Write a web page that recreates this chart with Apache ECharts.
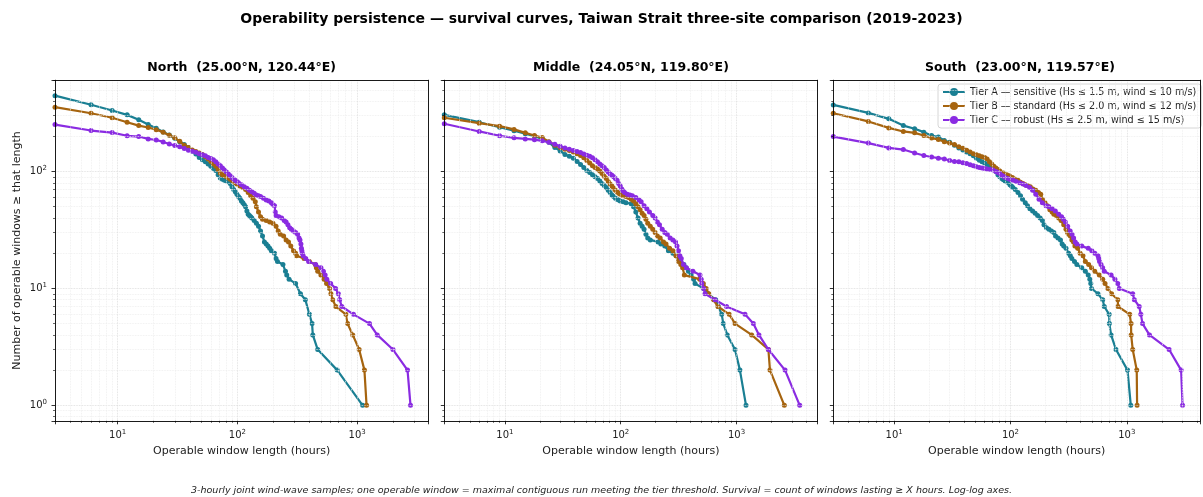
<!DOCTYPE html>
<html>
<head>
<meta charset="utf-8">
<script src="https://cdn.jsdelivr.net/npm/echarts@6/dist/echarts.min.js"></script>
<style>html,body{margin:0;padding:0;background:#fff;}#chart{width:1203px;height:497px;}</style>
</head>
<body>
<div id="chart"></div>
<script>
// ---------------- data ----------------
const suptitle = 'Operability persistence \u2014 survival curves, Taiwan Strait three-site comparison (2019-2023)';
const panelTitles = ['North  (25.00\u00b0N, 120.44\u00b0E)', 'Middle  (24.05\u00b0N, 119.80\u00b0E)', 'South  (23.00\u00b0N, 119.57\u00b0E)'];
const tierNames = [
  'Tier A \u2014 sensitive (Hs \u2264 1.5 m, wind \u2264 10 m/s)',
  'Tier B \u2014 standard (Hs \u2264 2.0 m, wind \u2264 12 m/s)',
  'Tier C \u2014 robust (Hs \u2264 2.5 m, wind \u2264 15 m/s)'
];
const xLabel = 'Operable window length (hours)';
const yLabel = 'Number of operable windows \u2265 that length';
const footnote = '3-hourly joint wind-wave samples; one operable window = maximal contiguous run meeting the tier threshold. Survival = count of windows lasting \u2265 X hours. Log-log axes.';
const xTicks = [10, 100, 1000];
const yTicks = [1, 10, 100];

// [window length (h), windows >= length]
const northA = [[3,445],[6,372],[9,332],[12,305],[15,277],[18,252],[21,234],[24,218],[27,205],[30,192],[33,180],[36,170],[39,160],[42,150],[45,141],[48,132],[51,126],[54,121],[57,116],[60,111],[63,106],[66,102],[69,94],[72,88],[75,86],[78,84],[81,83],[84,82],[87,79],[90,74],[93,70],[96,67],[99,64],[102,61],[105,59],[108,56],[111,54],[114,52],[117,50],[120,46],[123,43],[126,42],[129,41],[132,40],[138,38],[144,36],[150,34],[156,31],[162,28],[168,25],[174,24],[180,23],[186,22],[192,21],[204,20],[210,18],[216,17],[240,16],[252,14],[258,13],[270,12],[306,11],[336,9],[369,8],[399,6],[420,5],[426,4],[468,3],[681,2],[1110,1]];
const northB = [[3,355],[6,315],[9,288],[12,264],[15,247],[18,238],[21,228],[24,217],[27,204],[30,194],[33,181],[36,168],[39,160],[42,153],[45,148],[48,144],[51,140],[54,134],[57,128],[60,122],[63,116],[66,111],[69,104],[72,97],[75,94],[78,92],[81,90],[84,88],[87,86],[90,84],[93,82],[96,80],[99,78],[105,75],[111,73],[117,70],[123,66],[129,62],[135,59],[141,55],[144,50],[150,45],[156,41],[162,39],[174,38],[186,37],[198,36],[210,34],[219,31],[228,29],[243,28],[255,26],[267,25],[279,23],[294,21],[306,20],[312,19],[360,18],[399,17],[447,16],[456,15],[468,14],[498,13],[528,12],[555,11],[588,10],[603,9],[624,8],[663,7],[804,6],[831,5],[918,4],[1038,3],[1149,2],[1197,1]];
const northC = [[3,252],[6,224],[9,215],[12,202],[15,199],[18,190],[21,186],[24,179],[27,172],[30,167],[33,163],[36,157],[39,152],[42,149],[45,146],[48,142],[51,139],[54,136],[57,132],[60,129],[63,126],[66,121],[69,116],[72,112],[75,107],[78,103],[81,99],[84,95],[87,92],[90,89],[93,86],[96,84],[99,82],[102,80],[108,77],[114,74],[120,72],[126,69],[132,67],[138,65],[144,63],[150,62],[156,61],[165,59],[174,57],[183,56],[192,54],[198,52],[204,51],[207,45],[210,42],[222,41],[234,40],[246,38],[255,37],[264,35],[273,33],[282,32],[294,31],[306,30],[318,29],[327,27],[333,26],[339,24],[342,22],[345,21],[348,20],[354,19],[372,18],[393,17],[450,16],[498,15],[522,14],[540,13],[558,12],[600,11],[660,10],[696,9],[714,8],[744,7],[930,6],[1266,5],[1470,4],[1989,3],[2631,2],[2787,1]];

const middleA = [[3,305],[6,264],[9,239],[12,223],[15,210],[18,200],[21,190],[24,178],[27,160],[30,150],[33,140],[36,135],[39,130],[42,122],[45,115],[48,108],[51,102],[54,98],[57,94],[60,90],[63,87],[66,83],[69,79],[72,76],[75,73],[78,69],[81,66],[84,63],[87,61],[90,59],[93,58],[96,57],[99,56],[105,55],[111,54],[123,53],[129,50],[135,45],[141,40],[147,36],[153,34],[159,32],[165,29],[171,27],[180,26],[210,25],[222,24],[240,23],[258,21],[282,20],[300,19],[315,18],[330,17],[351,16],[366,15],[384,14],[405,13],[426,12],[438,11],[516,10],[570,9],[660,8],[696,7],[744,6],[768,5],[831,4],[969,3],[1068,2],[1206,1]];
const middleB = [[3,288],[6,259],[9,244],[12,229],[15,214],[18,203],[21,195],[24,180],[27,168],[30,160],[33,155],[36,151],[39,147],[42,142],[45,137],[48,131],[51,124],[54,118],[57,112],[60,108],[63,105],[66,101],[69,96],[72,91],[75,87],[78,82],[81,78],[84,75],[87,72],[90,69],[93,67],[96,65],[99,64],[105,62],[111,61],[117,60],[123,58],[129,56],[135,53],[141,50],[147,47],[153,44],[159,42],[165,39],[171,36],[180,34],[189,32],[198,30],[207,28],[219,27],[234,25],[246,24],[264,22],[282,21],[300,19],[315,17],[330,16],[342,15],[354,13],[480,12],[516,11],[546,10],[576,9],[630,8],[690,7],[864,6],[969,5],[1350,4],[1881,3],[1941,2],[2583,1]];
const middleC = [[3,256],[6,220],[9,202],[12,194],[15,190],[18,187],[21,183],[24,178],[27,171],[30,164],[33,159],[36,155],[39,151],[42,148],[45,145],[48,141],[51,138],[54,135],[57,131],[60,126],[63,121],[66,116],[69,112],[72,108],[75,103],[78,99],[81,95],[84,93],[87,90],[90,87],[93,84],[96,79],[99,75],[102,71],[105,68],[108,66],[114,64],[120,63],[126,62],[135,60],[144,57],[150,55],[159,51],[168,48],[177,45],[189,42],[198,40],[207,37],[216,35],[228,32],[240,30],[252,29],[267,27],[282,26],[297,25],[306,23],[315,21],[324,19],[333,18],[348,16],[369,15],[420,14],[483,13],[495,12],[501,11],[519,10],[534,9],[651,8],[819,7],[1182,6],[1395,5],[1560,4],[1881,3],[2619,2],[3507,1]];

const southA = [[3,371],[6,317],[9,282],[12,247],[15,232],[18,217],[21,203],[24,197],[27,184],[30,178],[33,168],[36,159],[39,153],[42,147],[45,142],[48,136],[51,130],[54,125],[57,121],[60,118],[63,115],[66,112],[69,108],[72,104],[75,100],[78,94],[81,90],[84,87],[87,85],[90,83],[93,82],[96,80],[99,77],[102,75],[105,73],[110,70],[116,66],[122,62],[127,58],[134,54],[140,51],[147,48],[155,46],[163,44],[171,42],[180,40],[188,38],[194,35],[204,33],[214,32],[225,31],[236,30],[244,28],[256,27],[269,26],[278,24],[287,23],[300,22],[316,20],[327,19],[337,18],[355,17],[372,16],[410,15],[440,14],[466,13],[481,12],[490,11],[497,10],[565,9],[621,8],[640,7],[705,6],[708,5],[733,4],[807,3],[1014,2],[1082,1]];
const southB = [[3,315],[6,268],[9,236],[12,220],[15,214],[18,203],[21,193],[24,188],[27,180],[30,175],[33,170],[36,163],[39,158],[42,152],[45,147],[48,142],[51,139],[54,136],[57,134],[60,132],[63,128],[66,121],[69,116],[72,111],[75,107],[78,104],[81,101],[87,97],[93,94],[98,92],[104,89],[110,86],[116,84],[122,81],[128,79],[134,77],[140,76],[148,74],[156,71],[165,69],[174,66],[182,64],[188,58],[198,54],[207,51],[218,47],[228,45],[236,43],[248,42],[260,40],[272,38],[287,35],[300,32],[309,30],[316,29],[327,28],[337,26],[348,25],[358,23],[378,22],[397,20],[420,19],[440,17],[470,16],[497,15],[530,14],[580,13],[621,12],[650,11],[688,10],[740,9],[836,8],[840,7],[1059,6],[1088,5],[1090,4],[1124,3],[1217,2],[1226,1]];
const southC = [[3,199],[6,175],[9,159],[12,154],[15,144],[18,137],[21,133],[24,130],[27,128],[30,124],[33,122],[36,121],[39,119],[42,117],[45,114],[48,112],[51,110],[54,108],[57,107],[60,106],[63,105],[67,104],[71,103],[75,100],[78,98],[81,96],[84,93],[87,91],[90,89],[95,87],[100,85],[106,84],[112,82],[120,80],[128,78],[136,76],[146,73],[155,69],[165,64],[176,58],[188,54],[202,51],[214,50],[228,48],[243,46],[260,43],[275,41],[285,39],[296,37],[310,34],[326,31],[338,29],[349,27],[360,25],[372,24],[410,23],[466,22],[500,21],[531,20],[565,19],[574,18],[583,17],[600,16],[620,15],[640,14],[733,13],[790,12],[836,11],[863,10],[1124,9],[1161,8],[1278,7],[1320,6],[1365,5],[1566,4],[2310,3],[2930,2],[3013,1]];

const panels = [[northA, northB, northC], [middleA, middleB, middleC], [southA, southB, southC]];
const tierColors = ['#1a7f93', '#a6640f', '#8a2be2'];

// ---------------- layout ----------------
const FONT = 'DejaVu Sans';
const gridBoxes = [
  {left: 55, width: 373.3},
  {left: 444.3, width: 373.2},
  {left: 833.3, width: 373.5}
];
const gridTop = 80.2, gridHeight = 340.6;
const xMin = 3;

function lg(v) { return Math.log10(v); }
// matplotlib-like 5% margins in log space
let globalMax = 0;
panels.forEach(p => p.forEach(s => s.forEach(d => { if (d[1] > globalMax) globalMax = d[1]; })));
const L = lg(globalMax);
const yMin = Math.pow(10, -0.05 * L), yMax = Math.pow(10, 1.05 * L);
const xMaxes = panels.map(p => {
  let m = 0; p.forEach(s => s.forEach(d => { if (d[0] > m) m = d[0]; }));
  const hi = lg(m), lo = lg(xMin);
  return Math.pow(10, hi + 0.05 * (hi - lo));
});

function powFmt(v) {
  const e = lg(v);
  if (Math.abs(e - Math.round(e)) > 1e-6) return '';
  return '{b|10}{s|' + Math.round(e) + '}';
}
const rich = {
  b: {fontSize: 10, lineHeight: 14, fontFamily: FONT, color: '#222'},
  s: {fontSize: 7, lineHeight: 7, verticalAlign: 'top', fontFamily: FONT, color: '#222'}
};
const frameLine = {show: true, onZero: false, lineStyle: {color: '#000', width: 0.9}};
const majorTick = {show: true, inside: false, length: 3.5, lineStyle: {color: '#000', width: 0.8}};
const minorT = {show: true, splitNumber: 9, length: 2, lineStyle: {color: '#000', width: 0.6}};
const gridSplit = {show: true, showMinLine: false, showMaxLine: false, lineStyle: {color: '#d9d9d9', type: 'dotted', width: 0.8}};
const minorSplit = {show: true, lineStyle: {color: '#ececec', type: 'dotted', width: 0.8}};

const grids = [], xAxes = [], yAxes = [], series = [];
const titles = [{
  text: suptitle, left: 601.5, top: 12, textAlign: 'center', textVerticalAlign: 'top', padding: 0,
  textStyle: {fontFamily: FONT, fontSize: 14, fontWeight: 'bold', color: '#000'}
}];

gridBoxes.forEach((g, i) => {
  grids.push({left: g.left, top: gridTop, width: g.width, height: gridHeight, containLabel: false, show: false});
  titles.push({text: panelTitles[i], left: g.left + g.width / 2, top: 61, textAlign: 'center', textVerticalAlign: 'top', padding: 0,
    textStyle: {fontFamily: FONT, fontSize: 12.5, fontWeight: 'bold', color: '#000'}});
  xAxes.push({
    type: 'log', logBase: 10, gridIndex: i, min: xMin, max: xMaxes[i], position: 'bottom', z: 8,
    name: xLabel, nameLocation: 'middle', nameGap: 24,
    nameTextStyle: {fontFamily: FONT, fontSize: 11, color: '#222'},
    axisLine: frameLine, axisTick: majorTick, minorTick: minorT,
    axisLabel: {show: true, margin: 8, formatter: powFmt, rich: rich, showMinLabel: true, showMaxLabel: true},
    splitLine: gridSplit, minorSplitLine: minorSplit
  });
  yAxes.push({
    type: 'log', logBase: 10, gridIndex: i, min: yMin, max: yMax, position: 'left', z: 8,
    name: i === 0 ? yLabel : '', nameLocation: 'middle', nameGap: 32,
    nameTextStyle: {fontFamily: FONT, fontSize: 11, color: '#222'},
    axisLine: frameLine, axisTick: majorTick, minorTick: minorT,
    axisLabel: {show: i === 0, margin: 8, formatter: powFmt, rich: rich},
    splitLine: gridSplit, minorSplitLine: minorSplit
  });
});
// top / right spines
gridBoxes.forEach((g, i) => {
  xAxes.push({type: 'log', logBase: 10, gridIndex: i, min: xMin, max: xMaxes[i], position: 'top', z: 10,
    axisLine: frameLine, axisTick: {show: false}, axisLabel: {show: false}, splitLine: {show: false}});
  yAxes.push({type: 'log', logBase: 10, gridIndex: i, min: yMin, max: yMax, position: 'right', z: 10,
    axisLine: frameLine, axisTick: {show: false}, axisLabel: {show: false}, splitLine: {show: false}});
});

gridBoxes.forEach((g, i) => {
  panels[i].forEach((data, t) => {
    series.push({
      name: tierNames[t], type: 'line', xAxisIndex: i, yAxisIndex: i, data: data,
      symbol: 'circle', symbolSize: 5, showSymbol: true, z: 3 + t,
      lineStyle: {color: tierColors[t], width: 2.2}, itemStyle: {color: tierColors[t], borderWidth: 0},
      emphasis: {disabled: true}, clip: true
    });
  });
});

titles.push({text: footnote, left: 601.5, top: 486, textAlign: 'center', textVerticalAlign: 'top', padding: 0,
  textStyle: {fontFamily: FONT, fontSize: 9.5, fontStyle: 'italic', fontWeight: 'normal', color: '#222'}});

const chart = echarts.init(document.getElementById('chart'), null, {renderer: 'canvas'});
chart.setOption({
  animation: false,
  backgroundColor: '#fff',
  textStyle: {fontFamily: FONT},
  title: titles,
  grid: grids,
  xAxis: xAxes,
  yAxis: yAxes,
  legend: {
    data: tierNames, orient: 'vertical', left: 938, top: 84,
    padding: [3, 5, 3, 4], itemGap: 4, itemWidth: 22, itemHeight: 10,
    backgroundColor: 'rgba(255,255,255,0.85)', borderColor: '#cccccc', borderWidth: 0.8, borderRadius: 3,
    textStyle: {fontFamily: FONT, fontSize: 9.6, color: '#222'}
  },
  series: series
});
</script>
</body>
</html>
